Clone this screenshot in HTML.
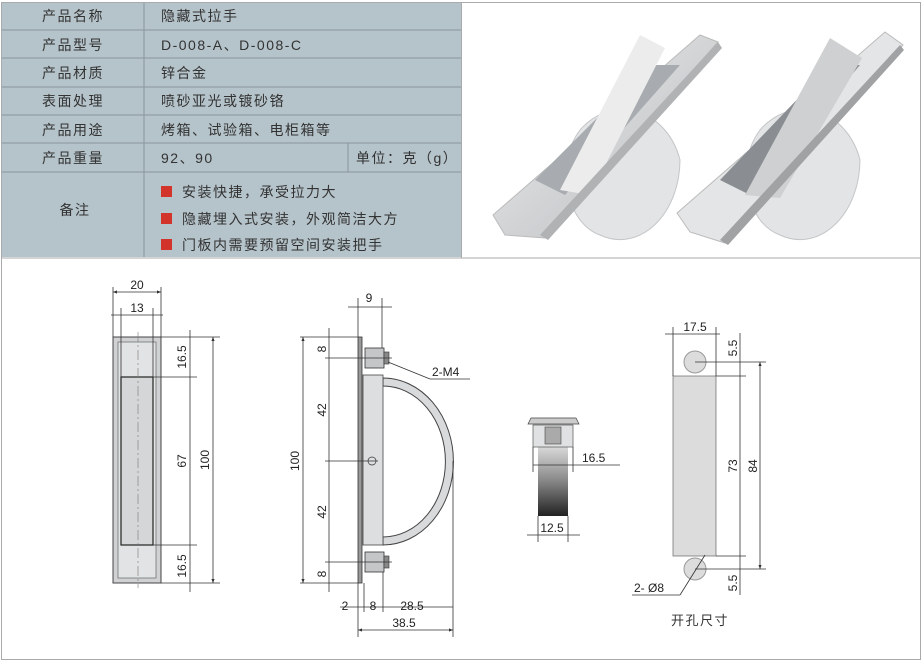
<!DOCTYPE html>
<html><head><meta charset="utf-8"><style>
html,body{margin:0;padding:0;background:#fff;}
svg{display:block;}
.t{font-family:"Liberation Sans","Noto Sans CJK SC",sans-serif;font-size:14px;fill:#333;letter-spacing:1.5px;}
.d{font-family:"Liberation Sans","Noto Sans CJK SC",sans-serif;font-size:12px;fill:#222;}
.l{stroke:#333;stroke-width:0.8;fill:none;}
</style></head><body>
<svg width="924" height="663" viewBox="0 0 924 663" xmlns="http://www.w3.org/2000/svg">
<defs>
<linearGradient id="band" x1="0" y1="0" x2="0" y2="1"><stop offset="0" stop-color="#ddd"/><stop offset="0.5" stop-color="#888"/><stop offset="1" stop-color="#222"/></linearGradient>
<linearGradient id="met" x1="0" y1="0" x2="1" y2="1"><stop offset="0" stop-color="#f4f4f4"/><stop offset="0.5" stop-color="#d2d4d6"/><stop offset="1" stop-color="#b8bbbe"/></linearGradient>
<marker id="a" markerWidth="6" markerHeight="6" refX="5" refY="3" orient="auto-start-reverse"><path d="M0,1 L5,3 L0,5z" fill="#333"/></marker>
</defs>
<!-- table -->
<rect x="2" y="2" width="459" height="255" fill="#b5c3ca"/>
<g stroke="#8a969c" stroke-width="1">
<line x1="2" y1="30" x2="461" y2="30"/><line x1="2" y1="58" x2="461" y2="58"/><line x1="2" y1="87" x2="461" y2="87"/><line x1="2" y1="115" x2="461" y2="115"/><line x1="2" y1="143" x2="461" y2="143"/><line x1="2" y1="172" x2="461" y2="172"/>
<line x1="144" y1="2" x2="144" y2="257"/><line x1="348" y1="143" x2="348" y2="172"/>
</g>
<g class="t">
<text x="73" y="21" text-anchor="middle">产品名称</text><text x="161" y="21">隐藏式拉手</text>
<text x="73" y="50" text-anchor="middle">产品型号</text><text x="161" y="50">D-008-A、D-008-C</text>
<text x="73" y="78" text-anchor="middle">产品材质</text><text x="161" y="78">锌合金</text>
<text x="73" y="106" text-anchor="middle">表面处理</text><text x="161" y="106">喷砂亚光或镀砂铬</text>
<text x="73" y="135" text-anchor="middle">产品用途</text><text x="161" y="135">烤箱、试验箱、电柜箱等</text>
<text x="73" y="163" text-anchor="middle">产品重量</text><text x="161" y="163">92、90</text><text x="356" y="163">单位：克（g）</text>
<text x="75" y="215" text-anchor="middle">备注</text>
<text x="182" y="197">安装快捷，承受拉力大</text>
<text x="182" y="224">隐藏埋入式安装，外观简洁大方</text>
<text x="182" y="250">门板内需要预留空间安装把手</text>
</g>
<rect x="161" y="186" width="11" height="11" fill="#d2332a"/>
<rect x="161" y="213" width="11" height="11" fill="#d2332a"/>
<rect x="161" y="239" width="11" height="11" fill="#d2332a"/>
<!-- frame -->
<rect x="1.5" y="2.5" width="919" height="657" fill="none" stroke="#aaa"/>
<line x1="2" y1="258" x2="921" y2="258" stroke="#aaa"/>
<line x1="461.5" y1="2" x2="461.5" y2="258" stroke="#aaa"/>
<!-- photos -->
<g>
<path d="M580,130 A60,70 0 0 1 680,160 A60,80 0 0 1 600,235 A45,62 0 0 1 580,130z" fill="#e2e4e6" stroke="#c4c6c8"/>
<polygon points="493,215 700,35 718,42 545,238 505,235" fill="url(#met)" stroke="#bbb"/>
<polygon points="535,180 650,65 680,65 565,195" fill="#a8acb0"/>
<polygon points="560,190 640,35 665,48 590,195" fill="#ececec"/>
<polygon points="540,235 718,42 722,48 548,240" fill="#b0b2b4"/>
<path d="M760,130 A60,70 0 0 1 860,160 A60,80 0 0 1 780,235 A45,62 0 0 1 760,130z" fill="#e2e4e6" stroke="#c4c6c8"/>
<polygon points="677,213 885,32 903,45 725,243 690,232" fill="#e4e5e6" stroke="#bbb"/>
<polygon points="720,180 830,65 860,65 750,195" fill="#8a8e92"/>
<polygon points="745,195 830,38 862,58 780,198" fill="#cfd0d1"/>
<polygon points="720,240 900,45 904,50 728,245" fill="#a0a2a4"/>
</g>
<!-- left view -->
<rect x="113" y="337" width="48" height="246" fill="#cfd1d3" stroke="#444"/>
<rect x="118" y="342" width="38" height="236" fill="#e2e3e4" stroke="#666" stroke-width="0.7"/>
<rect x="121" y="377" width="32" height="168" fill="#d4d6d8" stroke="#222" stroke-width="1.2"/>
<line x1="138" y1="332" x2="138" y2="588" stroke="#777" stroke-width="0.6" stroke-dasharray="10,3,2,3"/>
<g class="l">
<line x1="113" y1="287" x2="113" y2="337"/><line x1="161" y1="287" x2="161" y2="337"/>
<line x1="113" y1="292" x2="161" y2="292" marker-start="url(#a)" marker-end="url(#a)"/>
<line x1="121" y1="308" x2="121" y2="377"/><line x1="153" y1="308" x2="153" y2="377"/>
<line x1="111" y1="315" x2="163" y2="315"/>
<line x1="161" y1="337" x2="220" y2="337"/><line x1="153" y1="377" x2="197" y2="377"/><line x1="153" y1="545" x2="197" y2="545"/><line x1="161" y1="583" x2="220" y2="583"/>
<line x1="190" y1="330" x2="190" y2="592"/>
<line x1="213" y1="337" x2="213" y2="583" marker-start="url(#a)" marker-end="url(#a)"/>
</g>
<text class="d" x="137" y="289" text-anchor="middle">20</text>
<text class="d" x="137" y="312" text-anchor="middle">13</text>
<text class="d" transform="translate(186,357) rotate(-90)" text-anchor="middle">16.5</text>
<text class="d" transform="translate(186,461) rotate(-90)" text-anchor="middle">67</text>
<text class="d" transform="translate(186,566) rotate(-90)" text-anchor="middle">16.5</text>
<text class="d" transform="translate(209,460) rotate(-90)" text-anchor="middle">100</text>
<!-- side view -->
<path d="M383,378 A70,83 0 0 1 383,545 L383,537 A62,75 0 0 0 383,386z" fill="#d8dadc" stroke="#444"/>
<rect x="358" y="337" width="4" height="246" fill="#999" stroke="#333" stroke-width="0.8"/>
<rect x="363" y="375" width="20" height="170" fill="#dcdedf" stroke="#444" stroke-width="0.8"/>
<rect x="365" y="348" width="19" height="20" fill="#c4c6c8" stroke="#333" stroke-width="0.8"/>
<rect x="384" y="352" width="5" height="12" fill="#888" stroke="#333" stroke-width="0.6"/>
<rect x="365" y="552" width="19" height="20" fill="#c4c6c8" stroke="#333" stroke-width="0.8"/>
<rect x="384" y="556" width="5" height="12" fill="#888" stroke="#333" stroke-width="0.6"/>
<circle cx="372" cy="461" r="4" fill="none" stroke="#333" stroke-width="0.7"/>
<g class="l">
<line x1="358" y1="298" x2="358" y2="337"/><line x1="382" y1="298" x2="382" y2="348"/>
<line x1="348" y1="307" x2="392" y2="307"/>
<line x1="300" y1="337" x2="358" y2="337"/><line x1="300" y1="583" x2="358" y2="583"/>
<line x1="303" y1="337" x2="303" y2="583" marker-start="url(#a)" marker-end="url(#a)"/>
<line x1="329" y1="328" x2="329" y2="592"/>
<line x1="325" y1="358" x2="392" y2="358"/><line x1="325" y1="461" x2="378" y2="461"/><line x1="325" y1="562" x2="392" y2="562"/>
<line x1="388" y1="362" x2="430" y2="379"/><line x1="430" y1="379" x2="470" y2="379"/>
<line x1="358" y1="583" x2="358" y2="637"/><line x1="364" y1="583" x2="364" y2="612"/><line x1="383" y1="572" x2="383" y2="612"/><line x1="453" y1="461" x2="453" y2="637"/>
<line x1="340" y1="607" x2="453" y2="607"/>
<line x1="358" y1="630" x2="453" y2="630" marker-start="url(#a)" marker-end="url(#a)"/>
</g>
<text class="d" x="369" y="302" text-anchor="middle">9</text>
<text class="d" x="432" y="376">2-M4</text>
<text class="d" transform="translate(299,461) rotate(-90)" text-anchor="middle">100</text>
<text class="d" transform="translate(326,349) rotate(-90)" text-anchor="middle">8</text>
<text class="d" transform="translate(326,410) rotate(-90)" text-anchor="middle">42</text>
<text class="d" transform="translate(326,512) rotate(-90)" text-anchor="middle">42</text>
<text class="d" transform="translate(326,574) rotate(-90)" text-anchor="middle">8</text>
<text class="d" x="345" y="610" text-anchor="middle">2</text>
<text class="d" x="373" y="610" text-anchor="middle">8</text>
<text class="d" x="412" y="610" text-anchor="middle">28.5</text>
<text class="d" x="404" y="627" text-anchor="middle">38.5</text>
<!-- small view -->
<rect x="538" y="445" width="30" height="71" fill="url(#band)"/>
<rect x="533" y="425" width="40" height="22" fill="#e0e1e2" stroke="#555" stroke-width="0.7"/>
<rect x="545" y="427" width="16" height="17" fill="#aaa" stroke="#444" stroke-width="0.6"/>
<path d="M528,424 L531,418 L576,418 L579,424z" fill="#ccc" stroke="#444" stroke-width="0.7"/>
<g class="l">
<line x1="533" y1="447" x2="533" y2="472"/><line x1="573" y1="447" x2="573" y2="472"/>
<line x1="533" y1="465" x2="620" y2="465"/>
<line x1="538" y1="516" x2="538" y2="542"/><line x1="568" y1="516" x2="568" y2="542"/>
<line x1="527" y1="535" x2="580" y2="535"/>
</g>
<text class="d" x="582" y="462">16.5</text>
<text class="d" x="552" y="532" text-anchor="middle">12.5</text>
<!-- cutout -->
<rect x="673" y="376" width="43" height="180" fill="#dcdcdc" stroke="#666" stroke-width="0.7"/>
<circle cx="695" cy="362" r="11" fill="#dcdcdc" stroke="#999"/>
<circle cx="695" cy="569" r="11" fill="#dcdcdc" stroke="#999"/>
<g class="l">
<line x1="673" y1="327" x2="673" y2="376"/><line x1="716" y1="327" x2="716" y2="376"/>
<line x1="665" y1="334" x2="720" y2="334"/>
<line x1="695" y1="362" x2="766" y2="362"/><line x1="716" y1="376" x2="746" y2="376"/><line x1="716" y1="556" x2="746" y2="556"/><line x1="695" y1="569" x2="766" y2="569"/>
<line x1="740" y1="333" x2="740" y2="595"/>
<line x1="760" y1="362" x2="760" y2="569" marker-start="url(#a)" marker-end="url(#a)"/>
<line x1="705" y1="555" x2="680" y2="595"/><line x1="680" y1="595" x2="632" y2="595"/>
</g>
<text class="d" x="695" y="331" text-anchor="middle">17.5</text>
<text class="d" transform="translate(737,348) rotate(-90)" text-anchor="middle">5.5</text>
<text class="d" transform="translate(737,466) rotate(-90)" text-anchor="middle">73</text>
<text class="d" transform="translate(757,466) rotate(-90)" text-anchor="middle">84</text>
<text class="d" transform="translate(737,583) rotate(-90)" text-anchor="middle">5.5</text>
<text class="d" x="634" y="592">2- Ø8</text>
<text class="t" x="700" y="625" text-anchor="middle" style="font-size:13px">开孔尺寸</text>
</svg>
</body></html>
